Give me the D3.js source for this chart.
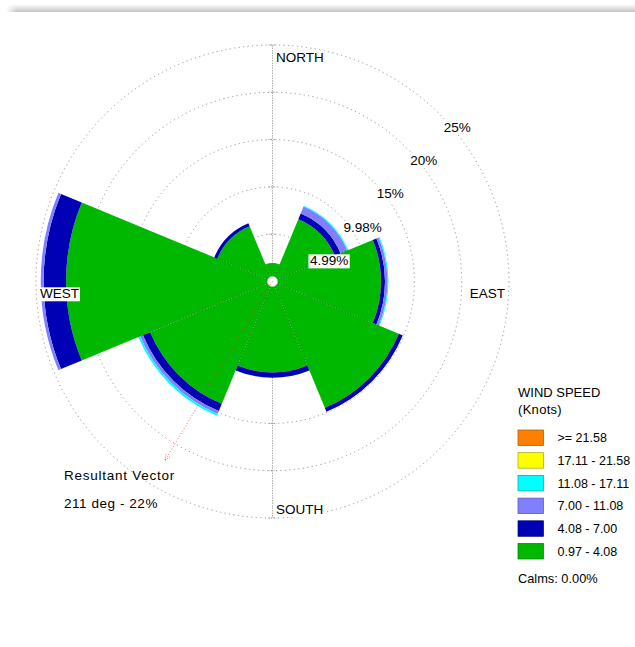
<!DOCTYPE html>
<html>
<head>
<meta charset="utf-8">
<script src="https://cdn.jsdelivr.net/npm/d3@7/dist/d3.min.js"></script>
<style>
  html, body { margin: 0; padding: 0; background: #fff; }
  svg { display: block; font-family: "Liberation Sans", Arial, sans-serif; }
</style>
</head>
<body>
<svg id="chart" width="635" height="647"></svg>
<script>
// ---------------- DATA ----------------
const directions = ["N", "NE", "E", "SE", "S", "SW", "W", "NW"];
const bearings = [0, 45, 90, 135, 180, 225, 270, 315];
const speedClasses = ["0.97 - 4.08", "4.08 - 7.00", "7.00 - 11.08", "11.08 - 17.11", "17.11 - 21.58", ">= 21.58"];
// frequency (%) per direction for each speed class
const speed0_97_4_08  = [1.95, 7.12, 11.45, 14.43, 9.60, 13.97, 21.78, 6.30];
const speed4_08_7_00  = [0.00, 0.65, 0.42, 0.44, 0.55, 0.82, 2.37, 0.35];
const speed7_00_11_08 = [0.00, 0.78, 0.26, 0.00, 0.00, 0.33, 0.30, 0.00];
const speed11_08_17_11 = [0.00, 0.10, 0.10, 0.00, 0.00, 0.20, 0.00, 0.00];
const speed17_11_21_58 = [0, 0, 0, 0, 0, 0, 0, 0];
const speedOver21_58  = [0, 0, 0, 0, 0, 0, 0, 0];
const ringValues = [4.99, 9.98, 14.97, 19.96, 24.95];
const ringLabels = ["4.99%", "9.98%", "15%", "20%", "25%"];
const cardinalLabels = ["NORTH", "EAST", "SOUTH", "WEST"];
const resultantDir = 211;
const resultantPct = 22;
const calmsText = "Calms: 0.00%";

// ---------------- STYLE ----------------
const classColors = ["#00b800", "#0000b4", "#8080ff", "#00ffff", "#ffff00", "#ff8000"];
const series = [speed0_97_4_08, speed4_08_7_00, speed7_00_11_08, speed11_08_17_11, speed17_11_21_58, speedOver21_58];

const svg = d3.select("#chart");
const cx = 272.5, cy = 281.5, R = 236.5;
const FONT = 13.5;
const rad = Math.PI / 180;

// top shadow bar
const defs = svg.append("defs");
const grad = defs.append("linearGradient").attr("id", "shadow").attr("x1", 0).attr("y1", 0).attr("x2", 0).attr("y2", 1);
grad.append("stop").attr("offset", "0%").attr("stop-color", "#ffffff");
grad.append("stop").attr("offset", "75%").attr("stop-color", "#d4d4d4");
grad.append("stop").attr("offset", "100%").attr("stop-color", "#c4c4c4");
const gradH = defs.append("linearGradient").attr("id", "shadowL").attr("x1", 0).attr("y1", 0).attr("x2", 1).attr("y2", 0);
gradH.append("stop").attr("offset", "0%").attr("stop-color", "#fff").attr("stop-opacity", 1);
gradH.append("stop").attr("offset", "100%").attr("stop-color", "#fff").attr("stop-opacity", 0);
svg.append("rect").attr("x", 6).attr("y", 4).attr("width", 629).attr("height", 8).attr("fill", "url(#shadow)");
svg.append("rect").attr("x", 6).attr("y", 3).attr("width", 10).attr("height", 10).attr("fill", "url(#shadowL)");

const r = d3.scaleLinear().domain([0, ringValues[ringValues.length - 1]]).range([0, R]);

const g = svg.append("g").attr("transform", `translate(${cx},${cy})`);

// rings
g.selectAll("circle.ring").data(ringValues).join("circle")
  .attr("class", "ring")
  .attr("r", d => r(d))
  .attr("fill", "none")
  .attr("stroke", "#8a8a8a")
  .attr("stroke-width", 0.9)
  .attr("stroke-dasharray", "1.2,3.3");

// N-S axis line
g.append("line").attr("x1", 0).attr("y1", -R).attr("x2", 0).attr("y2", R)
  .attr("stroke", "#b0b0b0").attr("stroke-width", 1).attr("stroke-dasharray", "1.5,1");
// small ticks on axis
ringValues.forEach(v => {
  [-1, 1].forEach(s => {
    g.append("line").attr("x1", -4).attr("x2", 4).attr("y1", s * r(v)).attr("y2", s * r(v))
      .attr("stroke", "#777").attr("stroke-width", 0.8).attr("stroke-dasharray", "1,1.5");
  });
});

// petals
const arc = d3.arc();
const half = 22.5;
directions.forEach((dir, i) => {
  let cum = 0;
  series.forEach((s, k) => {
    const v = s[i];
    if (v <= 0) return;
    const inner = cum, outer = cum + v;
    cum = outer;
    g.append("path")
      .attr("d", arc({
        innerRadius: r(inner), outerRadius: r(outer),
        startAngle: (bearings[i] - half) * rad, endAngle: (bearings[i] + half) * rad
      }))
      .attr("fill", classColors[k]);
  });
});

// totals & boundaries
const totals = directions.map((d, i) => series.reduce((a, s) => a + s[i], 0));
directions.forEach((d, i) => {
  const j = (i + 1) % directions.length;
  const b = (bearings[i] + half) * rad;
  const len = r(Math.min(totals[i], totals[j]));
  g.append("line")
    .attr("x1", 0).attr("y1", 0)
    .attr("x2", len * Math.sin(b)).attr("y2", -len * Math.cos(b))
    .attr("stroke", "#1a3a1a").attr("stroke-width", 0.9).attr("stroke-dasharray", "1,2").attr("opacity", 0.75);
});

// helper: text with white background
function labelWithBg(parent, x, y, txt, anchor, pad) {
  const grp = parent.append("g");
  const t = grp.append("text").attr("x", x).attr("y", y).attr("text-anchor", anchor || "start")
    .attr("font-size", FONT).attr("fill", "#000").text(txt);
  const bb = t.node().getBBox();
  const p = pad == null ? 1 : pad;
  grp.insert("rect", "text").attr("x", bb.x - p).attr("y", bb.y + 1).attr("width", bb.width + 2 * p).attr("height", bb.height - 1)
    .attr("fill", "#fff");
  return grp;
}

// ring labels along 45 deg
ringValues.forEach((v, i) => {
  const rr = r(v);
  const x = rr * Math.sin(45 * rad) + 4;
  const y = -rr * Math.cos(45 * rad) + 17.3;
  labelWithBg(g, x, y, ringLabels[i], "start", i < 2 ? 1.5 : 0.5);
});

// cardinal labels
labelWithBg(g, 3.5, -R + 16.5, cardinalLabels[0], "start", 0.5);
labelWithBg(g, R - 4, 16.8, cardinalLabels[1], "end", 0.5);
labelWithBg(g, 3.5, R - 4, cardinalLabels[2], "start", 0.5);
labelWithBg(g, -R + 4, 16.8, cardinalLabels[3], "start", 1);

// calm hole
g.append("circle").attr("r", 5).attr("fill", "#fff").attr("stroke", "#ddd").attr("stroke-width", 0.5);

// resultant vector
const rb = resultantDir * rad;
const rl = r(resultantPct);
const ex = rl * Math.sin(rb), ey = -rl * Math.cos(rb);
g.append("line").attr("x1", 0).attr("y1", 0).attr("x2", ex).attr("y2", ey)
  .attr("stroke", "#ff3030").attr("stroke-width", 0.9).attr("stroke-dasharray", "1,2").attr("opacity", 0.8);
// arrowhead
[-25, 25].forEach(a => {
  const ang = rb + Math.PI + a * rad;
  g.append("line").attr("x1", ex).attr("y1", ey)
    .attr("x2", ex + 6 * Math.sin(ang)).attr("y2", ey - 6 * Math.cos(ang))
    .attr("stroke", "#ff3030").attr("stroke-width", 0.9).attr("stroke-dasharray", "1,1.5").attr("opacity", 0.8);
});

svg.append("text").attr("x", 64).attr("y", 479.5).attr("font-size", FONT).attr("letter-spacing", 0.75).text("Resultant Vector");
svg.append("text").attr("x", 64).attr("y", 508).attr("font-size", FONT).attr("letter-spacing", 0.55)
  .text(`${resultantDir} deg - ${resultantPct}%`);

// legend
const LF = 13;
const lg = svg.append("g");
lg.append("text").attr("x", 518).attr("y", 396.5).attr("font-size", LF).text("WIND SPEED");
lg.append("text").attr("x", 518).attr("y", 414).attr("font-size", LF).attr("letter-spacing", 0.3).text("(Knots)");
const order = d3.range(speedClasses.length).reverse();
const ly = d3.scaleBand().domain(order).range([430, 430 + 22.7 * order.length]);
order.forEach(k => {
  const y = ly(k);
  lg.append("rect").attr("x", 518).attr("y", y).attr("width", 25.5).attr("height", 15.5)
    .attr("fill", classColors[k]).attr("stroke", d3.color(classColors[k]).darker(1.2)).attr("stroke-width", 0.7);
  lg.append("text").attr("x", 557.5).attr("y", y + 12.2).attr("font-size", 12.5).text(speedClasses[k]);
});
lg.append("text").attr("x", 518).attr("y", 583).attr("font-size", 12.8).text(calmsText);
</script>
</body>
</html>
